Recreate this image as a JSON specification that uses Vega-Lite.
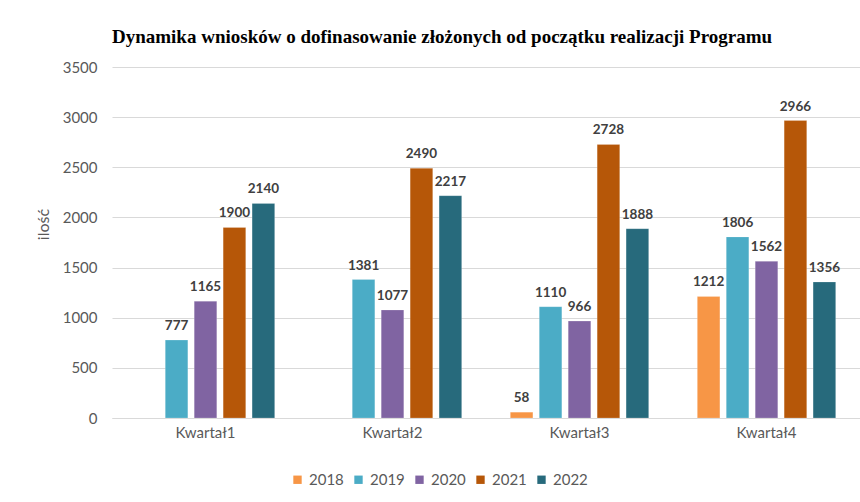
{
  "$schema": "https://vega.github.io/schema/vega-lite/v6.json",
  "autosize": "none",
  "width": 748,
  "height": 351,
  "padding": {"left": 112, "top": 67, "right": 0, "bottom": 84},
  "background": "white",
  "title": {
    "text": "Dynamika wniosków o dofinasowanie złożonych od początku realizacji Programu",
    "font": "Liberation Serif",
    "fontSize": 19,
    "fontWeight": "bold",
    "color": "#000000",
    "anchor": "middle",
    "dx": -44,
    "offset": 13
  },
  "data": {
    "values": [
      {"kwartal": "Kwartał1", "rok": "2019", "ilosc": 777},
      {"kwartal": "Kwartał1", "rok": "2020", "ilosc": 1165},
      {"kwartal": "Kwartał1", "rok": "2021", "ilosc": 1900},
      {"kwartal": "Kwartał1", "rok": "2022", "ilosc": 2140},
      {"kwartal": "Kwartał2", "rok": "2019", "ilosc": 1381},
      {"kwartal": "Kwartał2", "rok": "2020", "ilosc": 1077},
      {"kwartal": "Kwartał2", "rok": "2021", "ilosc": 2490},
      {"kwartal": "Kwartał2", "rok": "2022", "ilosc": 2217},
      {"kwartal": "Kwartał3", "rok": "2018", "ilosc": 58},
      {"kwartal": "Kwartał3", "rok": "2019", "ilosc": 1110},
      {"kwartal": "Kwartał3", "rok": "2020", "ilosc": 966},
      {"kwartal": "Kwartał3", "rok": "2021", "ilosc": 2728},
      {"kwartal": "Kwartał3", "rok": "2022", "ilosc": 1888},
      {"kwartal": "Kwartał4", "rok": "2018", "ilosc": 1212},
      {"kwartal": "Kwartał4", "rok": "2019", "ilosc": 1806},
      {"kwartal": "Kwartał4", "rok": "2020", "ilosc": 1562},
      {"kwartal": "Kwartał4", "rok": "2021", "ilosc": 2966},
      {"kwartal": "Kwartał4", "rok": "2022", "ilosc": 1356}
    ]
  },
  "encoding": {
    "x": {
      "field": "kwartal",
      "type": "nominal",
      "sort": ["Kwartał1", "Kwartał2", "Kwartał3", "Kwartał4"],
      "scale": {"paddingInner": 0.26, "paddingOuter": 0.13},
      "axis": {
        "title": null,
        "labelAngle": 0,
        "labelFont": "Lato",
        "labelFontSize": 15,
        "labelColor": "#595959",
        "labelPadding": 7,
        "ticks": false,
        "domainColor": "#d9d9d9",
        "domainWidth": 1
      }
    },
    "xOffset": {
      "field": "rok",
      "type": "nominal",
      "scale": {"domain": ["2018", "2019", "2020", "2021", "2022"], "paddingInner": 0.22, "paddingOuter": 0}
    },
    "y": {
      "field": "ilosc",
      "type": "quantitative",
      "scale": {"domain": [0, 3500], "nice": false},
      "axis": {
        "title": "ilość",
        "titleFont": "Lato",
        "titleFontSize": 16,
        "titleFontWeight": "normal",
        "titleColor": "#595959",
        "titleAngle": -90,
        "titleX": -69,
        "titleY": 157,
        "titleAlign": "center",
        "titleBaseline": "middle",
        "values": [0, 500, 1000, 1500, 2000, 2500, 3000, 3500],
        "format": "d",
        "labelFont": "Lato",
        "labelFontSize": 15,
        "labelColor": "#595959",
        "labelPadding": 15,
        "ticks": false,
        "domain": false,
        "gridColor": "#d9d9d9",
        "gridWidth": 1
      }
    }
  },
  "layer": [
    {
      "mark": {"type": "bar", "stroke": "white", "strokeWidth": 0.5, "strokeOpacity": 0.4},
      "encoding": {
        "color": {
          "field": "rok",
          "type": "nominal",
          "scale": {
            "domain": ["2018", "2019", "2020", "2021", "2022"],
            "range": ["#F79646", "#4BACC6", "#8064A2", "#B65708", "#276A7C"]
          },
          "legend": {
            "title": null,
            "orient": "none",
            "direction": "horizontal",
            "legendX": 178,
            "legendY": 405,
            "symbolType": "square",
            "symbolSize": 70,
            "symbolStrokeWidth": 0,
            "labelFont": "Lato",
            "labelFontSize": 15,
            "labelColor": "#595959",
            "labelOffset": 4,
            "columnPadding": 7,
            "padding": 0
          }
        }
      }
    },
    {
      "mark": {"type": "text", "baseline": "bottom", "dy": -7, "font": "Lato", "fontSize": 13.5, "fontWeight": "bold", "color": "#404040"},
      "encoding": {
        "text": {"field": "ilosc", "type": "quantitative", "format": "d"}
      }
    }
  ],
  "config": {
    "view": {"stroke": null}
  }
}
